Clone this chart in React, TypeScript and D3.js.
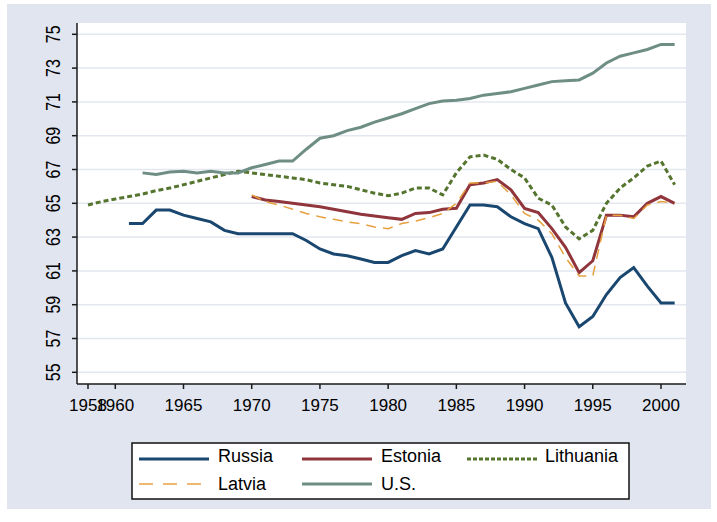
import React from "react";
import * as d3 from "d3";

const xTicks = [1958, 1960, 1965, 1970, 1975, 1980, 1985, 1990, 1995, 2000];
const yTicks = [55, 57, 59, 61, 63, 65, 67, 69, 71, 73, 75];

const russiaStart = 1961;
const russia = [63.8, 63.8, 64.6, 64.6, 64.3, 64.1, 63.9, 63.4, 63.2, 63.2, 63.2, 63.2, 63.2, 62.8, 62.3, 62.0, 61.9, 61.7, 61.5, 61.5, 61.9, 62.2, 62.0, 62.3, 63.6, 64.9, 64.9, 64.8, 64.2, 63.8, 63.5, 61.8, 59.1, 57.7, 58.3, 59.6, 60.6, 61.2, 60.1, 59.1, 59.1];

const estoniaStart = 1970;
const estonia = [65.4, 65.2, 65.1, 65.0, 64.9, 64.8, 64.65, 64.5, 64.35, 64.25, 64.15, 64.05, 64.4, 64.45, 64.65, 64.7, 66.1, 66.2, 66.4, 65.8, 64.7, 64.45, 63.5, 62.4, 60.9, 61.6, 64.3, 64.3, 64.2, 65.0, 65.4, 65.0];

const lithuaniaStart = 1958;
const lithuania = [64.9, 65.1, 65.25, 65.4, 65.55, 65.75, 65.9, 66.1, 66.3, 66.5, 66.7, 66.9, 66.8, 66.7, 66.6, 66.5, 66.4, 66.2, 66.1, 66.0, 65.8, 65.6, 65.45, 65.6, 65.9, 65.9, 65.5, 66.8, 67.75, 67.85, 67.6, 67.0, 66.5, 65.3, 64.9, 63.6, 62.9, 63.4, 65.0, 65.9, 66.5, 67.2, 67.5, 66.1];

const latviaStart = 1970;
const latvia = [65.5, 65.1, 64.9, 64.65, 64.4, 64.2, 64.05, 63.9, 63.8, 63.6, 63.5, 63.8, 63.95, 64.15, 64.4, 65.0, 66.2, 66.2, 66.3, 65.5, 64.4, 64.0, 63.2, 61.8, 60.7, 60.7, 64.3, 64.3, 64.1, 64.9, 65.1, 65.0];

const usStart = 1962;
const us = [66.8, 66.7, 66.85, 66.9, 66.8, 66.9, 66.8, 66.8, 67.1, 67.3, 67.5, 67.5, 68.2, 68.85, 69.0, 69.3, 69.5, 69.8, 70.05, 70.3, 70.6, 70.9, 71.05, 71.1, 71.2, 71.4, 71.5, 71.6, 71.8, 72.0, 72.2, 72.25, 72.3, 72.7, 73.3, 73.7, 73.9, 74.1, 74.4, 74.4];

type Series = { name: string; start: number; values: number[]; color: string; width: number; dash?: string };

const series: Series[] = [
  { name: "Russia", start: russiaStart, values: russia, color: "#1a476f", width: 3 },
  { name: "Estonia", start: estoniaStart, values: estonia, color: "#90353b", width: 3 },
  { name: "Lithuania", start: lithuaniaStart, values: lithuania, color: "#55752f", width: 3, dash: "5,3" },
  { name: "Latvia", start: latviaStart, values: latvia, color: "#e6a040", width: 1.5, dash: "10,7" },
  { name: "U.S.", start: usStart, values: us, color: "#6e8e84", width: 3 },
];

const legendOrder = ["Russia", "Estonia", "Lithuania", "Latvia", "U.S."];

export default function App() {
  const W = 717, H = 522;
  const x = d3.scaleLinear().domain([1958, 2000]).range([88, 661]);
  const y = d3.scaleLinear().domain([55, 75]).range([372.3, 34.3]);
  const plot = { l: 77, t: 23, r: 686, b: 384 };
  const line = d3.line<[number, number]>().x((d) => x(d[0])).y((d) => y(d[1]));
  const font = "'Liberation Sans', Arial, sans-serif";

  const legendPos = [
    { kx: 139, tx: 218, ky: 459, ty: 461.5 },
    { kx: 302, tx: 381, ky: 459, ty: 461.5 },
    { kx: 467, tx: 545, ky: 459, ty: 461.5 },
    { kx: 139, tx: 218, ky: 484, ty: 489.5 },
    { kx: 302, tx: 381, ky: 484, ty: 489.5 },
  ];

  return (
    <div style={{ position: "fixed", left: 0, top: 0 }}>
      <svg width={W} height={H} style={{ display: "block" }}>
        <rect x={0} y={0} width={W} height={H} fill="#ffffff" />
        <rect x={7} y={4} width={704} height={505} fill="#e1e5ef" />
        <rect x={plot.l} y={plot.t} width={plot.r - plot.l} height={plot.b - plot.t} fill="#ffffff" />
        {yTicks.map((t) => (
          <line key={"g" + t} x1={plot.l} x2={plot.r} y1={y(t)} y2={y(t)} stroke="#e3e7ef" strokeWidth={1.5} />
        ))}
        {series.map((s) => {
          const pts: [number, number][] = s.values.map((v, i) => [s.start + i, v]);
          return (
            <path key={s.name} d={line(pts) || ""} fill="none" stroke={s.color} strokeWidth={s.width}
              strokeDasharray={s.dash} strokeLinejoin="miter" />
          );
        })}
        <line x1={plot.l} x2={plot.l} y1={plot.t} y2={plot.b} stroke="#1a1a1a" strokeWidth={1.5} />
        <line x1={plot.l} x2={plot.r} y1={plot.b} y2={plot.b} stroke="#1a1a1a" strokeWidth={1.5} />
        {yTicks.map((t) => (
          <g key={"yt" + t}>
            <line x1={plot.l - 5} x2={plot.l} y1={y(t)} y2={y(t)} stroke="#1a1a1a" strokeWidth={1.5} />
            <g transform={`translate(${53},${y(t)}) rotate(-90) scale(1,1.3)`}>
              <text textAnchor="middle" dominantBaseline="central" fontFamily={font} fontSize={16} fill="#000">{t}</text>
            </g>
          </g>
        ))}
        {xTicks.map((t) => (
          <g key={"xt" + t}>
            <line x1={x(t)} x2={x(t)} y1={plot.b} y2={plot.b + 5} stroke="#1a1a1a" strokeWidth={1.5} />
            <text x={x(t)} y={410.5} textAnchor="middle" fontFamily={font} fontSize={17} fill="#000">{t}</text>
          </g>
        ))}
        <rect x={132} y={443} width={497} height={56} fill="#ffffff" stroke="#111" strokeWidth={1.5} />
        {legendOrder.map((n, i) => {
          const s = series.find((q) => q.name === n)!;
          const p = legendPos[i];
          return (
            <g key={"lg" + n}>
              <line x1={p.kx} x2={p.kx + 70} y1={p.ky} y2={p.ky} stroke={s.color} strokeWidth={s.width}
                strokeDasharray={s.name === "Latvia" ? "14,10" : s.name === "Lithuania" ? "4,2" : undefined} />
              <text x={p.tx} y={p.ty} fontFamily={font} fontSize={18} fill="#000">{n}</text>
            </g>
          );
        })}
      </svg>
    </div>
  );
}
